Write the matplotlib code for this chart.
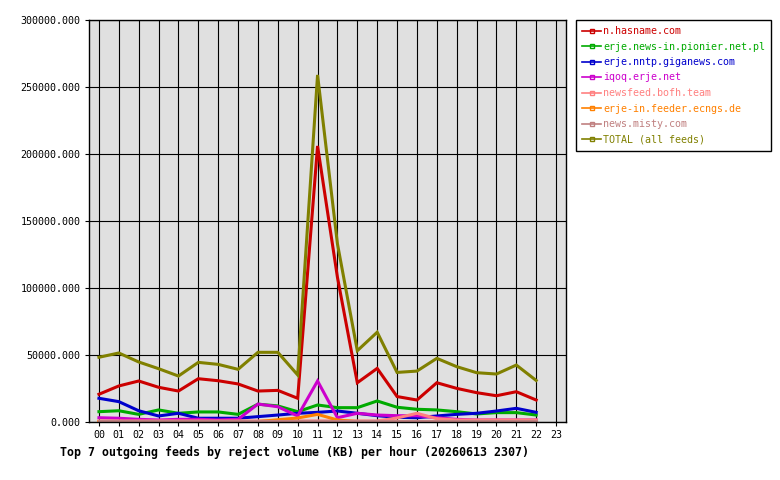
import matplotlib
matplotlib.use('Agg')
import matplotlib.pyplot as plt
from matplotlib.lines import Line2D
import numpy as np

plt.rcParams['font.family'] = ['DejaVu Sans Mono']

# hourly reject volume (KB), hours 00..22
hours = list(range(23))
hour_labels = ['%02d' % h for h in range(24)]

hasname = [20700, 26900, 30600, 25900, 23100, 32300, 30800, 28400, 23100, 23600, 17700,
           206000, 108000, 29300, 40000, 19000, 16400, 29300, 25100, 21900, 19600, 22600, 16400]
pionier = [7700, 8400, 5700, 9000, 6500, 7500, 7500, 5700, 13300, 12000, 7700,
           12700, 10700, 10700, 15700, 11000, 9500, 9000, 7700, 6000, 7000, 7000, 5200]
giganews = [17700, 15200, 8400, 4500, 6500, 2800, 2800, 2800, 4000, 5200, 6500,
            7200, 8200, 6500, 4700, 3500, 3200, 4500, 5700, 6500, 8200, 10200, 7200]
iqoq = [3200, 2800, 2000, 1500, 2000, 2000, 1500, 2000, 13400, 11400, 4500,
        30600, 3200, 6500, 5200, 4700, 4700, 3200, 2000, 1500, 1500, 1500, 1500]
bofh = [800, 800, 800, 800, 800, 800, 800, 800, 800, 800, 800,
        800, 800, 800, 800, 3000, 6500, 2500, 1500, 1500, 1500, 1500, 1500]
ecngs = [300, 300, 300, 300, 300, 300, 300, 300, 300, 1700, 3000,
         5700, 1500, 300, 300, 300, 300, 300, 300, 300, 300, 300, 300]
misty = [800] * 23
total = [48300, 51500, 44800, 39800, 34300, 44500, 43000, 39300, 52000, 52000, 35100,
         259000, 133000, 53200, 67000, 37000, 38000, 47500, 41300, 36800, 35800, 42500, 31000]

series = [
    ('n.hasname.com', hasname, '#cc0000'),
    ('erje.news-in.pionier.net.pl', pionier, '#00aa00'),
    ('erje.nntp.giganews.com', giganews, '#0000cc'),
    ('iqoq.erje.net', iqoq, '#cc00cc'),
    ('newsfeed.bofh.team', bofh, '#ff8080'),
    ('erje-in.feeder.ecngs.de', ecngs, '#ff8000'),
    ('news.misty.com', misty, '#c08080'),
    ('TOTAL (all feeds)', total, '#808000'),
]

fig = plt.figure(figsize=(7.8, 4.8), dpi=100)
ax = fig.add_axes([89/780, 58/480, 477/780, 402/480])
ax.set_facecolor('#e0e0e0')

for name, vals, col in series:
    ax.plot(hours, vals, color=col, lw=2.2, solid_joinstyle='miter')

ax.set_xlim(-0.5, 23.5)
ax.set_ylim(0, 300000)
ax.set_xticks(range(24))
ax.set_xticklabels(hour_labels)
ax.set_yticks(np.arange(0, 300001, 50000))
ax.set_yticklabels(['%.3f' % v for v in np.arange(0, 300001, 50000)])
ax.grid(True, color='black', lw=0.8)
ax.set_axisbelow(True)
ax.tick_params(length=3, width=0.8, pad=3, labelsize=7.2, direction='out')
for s in ax.spines.values():
    s.set_linewidth(1)

fig.text(60/780, 1 - 452/480,
         'Top 7 outgoing feeds by reject volume (KB) per hour (20260613 2307)',
         fontsize=8.4, fontweight='bold', va='center', ha='left')

handles = [Line2D([0], [0], color=c, lw=1.2, marker='s', markersize=3,
                  markerfacecolor='none', markeredgecolor=c) for _, _, c in series]
leg = fig.legend(handles, [n for n, _, _ in series],
                 loc='upper left', bbox_to_anchor=(576/780, 1 - 20/480),
                 prop={'size': 7.2}, labelcolor='linecolor',
                 frameon=True, fancybox=False, edgecolor='black', framealpha=1,
                 borderpad=0.6, labelspacing=0.55, handlelength=1.9,
                 handletextpad=0.2, borderaxespad=0)
leg.get_frame().set_linewidth(1)

fig.savefig('out.png', dpi=100)
